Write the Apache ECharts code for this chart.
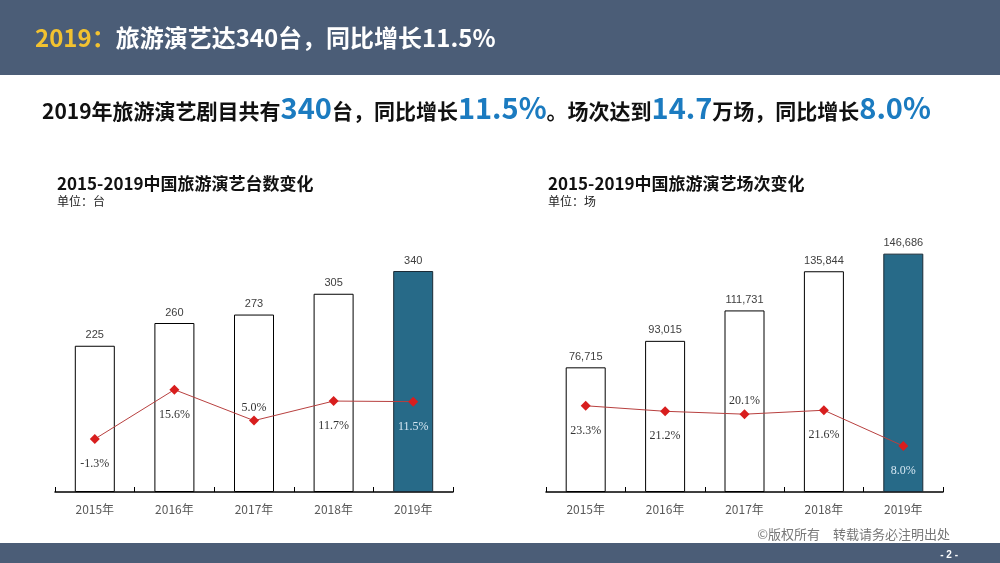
<!DOCTYPE html>
<html>
<head>
<meta charset="utf-8">
<script src="https://cdn.jsdelivr.net/npm/echarts@6/dist/echarts.min.js"></script>
<style>
html,body{margin:0;padding:0;background:#fff;}
#c{width:1000px;height:563px;}
</style>
</head>
<body>
<div id="c"></div>
<script>
// ---- data ----
const years = ['2015年', '2016年', '2017年', '2018年', '2019年'];
const showCount = [225, 260, 273, 305, 340];          // 台数
const showCountGrowth = [-1.3, 15.6, 5.0, 11.7, 11.5]; // 同比增长 %
const perfCount = [76715, 93015, 111731, 135844, 146686]; // 场次
const perfCountGrowth = [23.3, 21.2, 20.1, 21.6, 8.0];   // 同比增长 %

// ---- styles ----
const CJK = '"Noto Sans CJK SC", "Noto Sans", sans-serif';
const SERIF = '"Liberation Serif", "DejaVu Serif", serif';
const SANS = '"Liberation Sans", Arial, sans-serif';
const slate = '#4b5d77';
const highlight = '#276a88';
const leftLabelPos = ['bottom', 'bottom', 'top', 'bottom', 'bottom'];
const rightLabelPos = ['bottom', 'bottom', 'top', 'bottom', 'bottom'];

function barData(vals) {
  return vals.map((v, i) => i === vals.length - 1
    ? { value: v, itemStyle: { color: highlight, borderColor: '#1b2b36' } }
    : v);
}
function lineData(vals, pos) {
  return vals.map((v, i) => ({
    value: v,
    label: {
      position: pos[i],
      distance: pos[i] === 'top' ? 2 : 14,
      color: i === vals.length - 1 ? '#d4e6f2' : '#333'
    }
  }));
}

const chart = echarts.init(document.getElementById('c'), null, { renderer: 'canvas' });

const xAxisCommon = {
  type: 'category',
  data: years,
  axisLine: { show: true, lineStyle: { color: '#000', width: 1.5 } },
  axisTick: { show: true, inside: true, length: 5, alignWithLabel: false, lineStyle: { color: '#000', width: 1 } },
  axisLabel: { color: '#595959', fontSize: 12, fontFamily: CJK, margin: 11 },
  splitLine: { show: false }
};
const hiddenY = { type: 'value', show: false, splitLine: { show: false } };

chart.setOption({
  animation: false,
  backgroundColor: '#fff',
  graphic: [
    { type: 'rect', shape: { x: 0, y: 0, width: 1000, height: 75 }, style: { fill: slate }, z: -1 },
    { type: 'rect', shape: { x: 0, y: 543, width: 1000, height: 20 }, style: { fill: slate }, z: -1 }
  ],
  title: [
    {
      left: 35, top: 26, padding: 0,
      text: '{y|2019：}{w|旅游演艺达340台，同比增长11.5%}',
      textStyle: {
        rich: {
          y: { color: '#f2c230', fontSize: 24, fontWeight: 'bold', fontFamily: CJK },
          w: { color: '#ffffff', fontSize: 24, fontWeight: 'bold', fontFamily: CJK }
        }
      }
    },
    {
      left: 42, top: 88, padding: 0,
      text: '{t|2019年旅游演艺剧目共有}{n|340}{t|台，同比增长}{n|11.5%}{t|。场次达到}{n|14.7}{t|万场，同比增长}{n|8.0%}',
      textStyle: {
        rich: {
          t: { color: '#111', fontSize: 21, fontWeight: 'bold', fontFamily: CJK, verticalAlign: 'bottom', lineHeight: 34 },
          n: { color: '#1b7bc0', fontSize: 29, fontWeight: 'bold', fontFamily: CJK, verticalAlign: 'bottom', lineHeight: 34 }
        }
      }
    },
    {
      left: 57, top: 175, padding: 0,
      text: '2015-2019中国旅游演艺台数变化',
      textStyle: { color: '#111', fontSize: 17, fontWeight: 'bold', fontFamily: CJK },
      subtext: '单位：台',
      subtextStyle: { color: '#222', fontSize: 12, fontFamily: CJK },
      itemGap: 3
    },
    {
      left: 548, top: 175, padding: 0,
      text: '2015-2019中国旅游演艺场次变化',
      textStyle: { color: '#111', fontSize: 17, fontWeight: 'bold', fontFamily: CJK },
      subtext: '单位：场',
      subtextStyle: { color: '#222', fontSize: 12, fontFamily: CJK },
      itemGap: 3
    },
    {
      right: 50, top: 528, padding: 0,
      text: '©版权所有　转载请务必注明出处',
      textStyle: { color: '#777', fontSize: 13, fontWeight: 'normal', fontFamily: CJK }
    },
    {
      right: 42, top: 550, padding: 0,
      text: '- 2 -',
      textStyle: { color: '#fff', fontSize: 10, fontWeight: 'bold', fontFamily: SANS }
    }
  ],
  grid: [
    { left: 55, top: 232, width: 398, height: 260 },
    { left: 546, top: 232, width: 397, height: 260 }
  ],
  xAxis: [
    Object.assign({ gridIndex: 0 }, xAxisCommon),
    Object.assign({ gridIndex: 1 }, xAxisCommon)
  ],
  yAxis: [
    Object.assign({ gridIndex: 0, min: 0, max: 400 }, hiddenY),
    Object.assign({ gridIndex: 0, min: -19.45, max: 69.6 }, hiddenY),
    Object.assign({ gridIndex: 1, min: 0, max: 160000 }, hiddenY),
    Object.assign({ gridIndex: 1, min: -9.5, max: 89.4 }, hiddenY)
  ],
  series: [
    {
      type: 'bar', xAxisIndex: 0, yAxisIndex: 0,
      data: barData(showCount), barWidth: 40,
      itemStyle: { color: '#fff', borderColor: '#000', borderWidth: 1 },
      label: { show: true, position: 'top', distance: 5, color: '#404040', fontSize: 11, fontFamily: SANS }
    },
    {
      type: 'line', xAxisIndex: 0, yAxisIndex: 1,
      data: lineData(showCountGrowth, leftLabelPos),
      symbol: 'diamond', symbolSize: 10,
      lineStyle: { color: '#b8403f', width: 1 },
      itemStyle: { color: '#d81e1e' },
      label: { show: true, fontSize: 12, fontFamily: SERIF, formatter: p => p.value.toFixed(1) + '%' },
      z: 5
    },
    {
      type: 'bar', xAxisIndex: 1, yAxisIndex: 2,
      data: barData(perfCount), barWidth: 40,
      itemStyle: { color: '#fff', borderColor: '#000', borderWidth: 1 },
      label: { show: true, position: 'top', distance: 5, color: '#404040', fontSize: 11, fontFamily: SANS,
        formatter: p => p.value.toLocaleString('en-US') }
    },
    {
      type: 'line', xAxisIndex: 1, yAxisIndex: 3,
      data: lineData(perfCountGrowth, rightLabelPos),
      symbol: 'diamond', symbolSize: 10,
      lineStyle: { color: '#b8403f', width: 1 },
      itemStyle: { color: '#d81e1e' },
      label: { show: true, fontSize: 12, fontFamily: SERIF, formatter: p => p.value.toFixed(1) + '%' },
      z: 5
    }
  ]
});
</script>
</body>
</html>
